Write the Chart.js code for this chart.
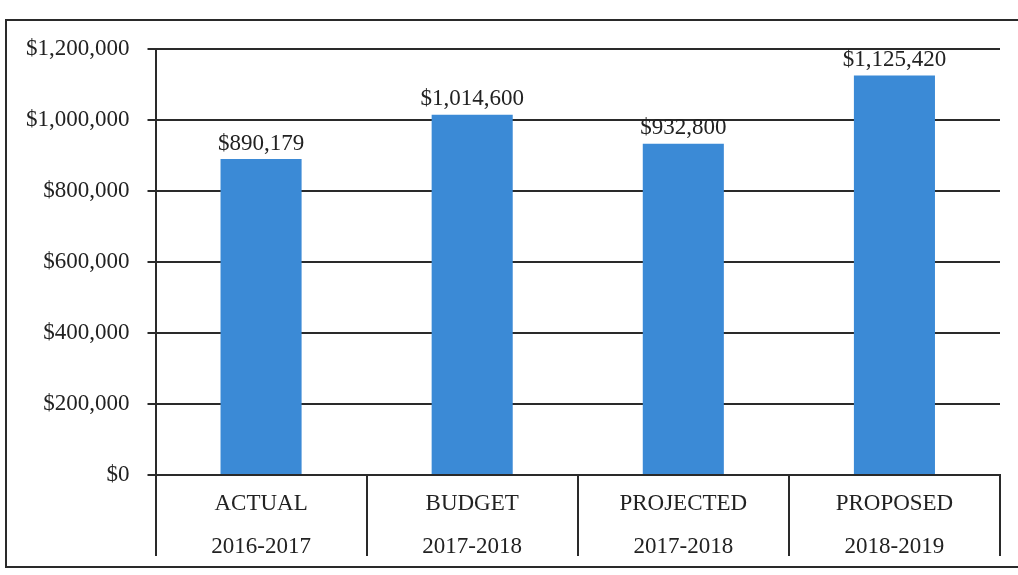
<!DOCTYPE html>
<html>
<head>
<meta charset="utf-8">
<script src="https://cdn.jsdelivr.net/npm/chart.js@4"></script>
<style>
  html, body { margin: 0; padding: 0; background: #fff; overflow: hidden; }
  #frame { position: absolute; left: 5px; top: 19px; width: 1040px; height: 549px; border: 2px solid #2a2a2a; box-sizing: border-box; }
  #wrap { position: absolute; left: 0; top: 0; width: 1018px; height: 575px; }
</style>
</head>
<body>
<div id="frame"></div>
<div id="wrap"><canvas id="c" width="1018" height="575"></canvas></div>
<script>
const categories = [["ACTUAL", "2016-2017"], ["BUDGET", "2017-2018"], ["PROJECTED", "2017-2018"], ["PROPOSED", "2018-2019"]];
const values = [890179, 1014600, 932800, 1125420];
const yTicks = [0, 200000, 400000, 600000, 800000, 1000000, 1200000];

const fmt = v => '$' + v.toLocaleString('en-US');
const SERIF = '"Liberation Serif", "Times New Roman", serif';

const valueLabels = {
  id: 'valueLabels',
  afterDatasetsDraw(chart) {
    const ctx = chart.ctx;
    const meta = chart.getDatasetMeta(0);
    ctx.save();
    ctx.font = '23px ' + SERIF;
    ctx.fillStyle = '#222';
    ctx.textAlign = 'center';
    ctx.textBaseline = 'bottom';
    meta.data.forEach((bar, i) => {
      ctx.fillText(fmt(values[i]), bar.x, bar.y - 4);
    });
    ctx.restore();
  }
};

// Table-style dividers between category labels, taken from the x scale
const categoryDividers = {
  id: 'categoryDividers',
  afterDraw(chart) {
    const xs = chart.scales.x;
    const ctx = chart.ctx;
    const n = chart.data.labels.length;
    const edges = [];
    for (let i = 0; i <= n; i++) edges.push(xs.getPixelForValue(i - 0.5));
    ctx.save();
    ctx.strokeStyle = '#2a2a2a';
    ctx.lineWidth = 2;
    edges.forEach(x => {
      ctx.beginPath();
      ctx.moveTo(Math.round(x), xs.top);
      ctx.lineTo(Math.round(x), xs.top + 81);
      ctx.stroke();
    });
    ctx.restore();
  }
};

new Chart(document.getElementById('c'), {
  type: 'bar',
  data: {
    labels: categories,
    datasets: [{
      data: values,
      backgroundColor: '#3b8ad6',
      borderWidth: 0,
      barPercentage: 0.384,
      categoryPercentage: 1.0
    }]
  },
  options: {
    responsive: false,
    animation: false,
    layout: { padding: { top: 49, right: 18, left: 8, bottom: 0 } },
    plugins: { legend: { display: false }, tooltip: { enabled: false } },
    scales: {
      x: {
        offset: true,
        grid: { display: false, drawTicks: false },
        border: { display: true, color: '#2a2a2a', width: 2 },
        ticks: {
          color: '#222',
          padding: 7,
          font: { family: SERIF, size: 23, lineHeight: 1.87 },
          maxRotation: 0
        }
      },
      y: {
        min: 0,
        max: 1200000,
        afterBuildTicks: axis => { axis.ticks = yTicks.map(v => ({ value: v })); },
        grid: { color: '#2a2a2a', lineWidth: 2, tickLength: 8 },
        border: { display: true, color: '#2a2a2a', width: 2 },
        ticks: {
          color: '#222',
          padding: 18,
          font: { family: SERIF, size: 23 },
          callback: v => fmt(v)
        }
      }
    }
  },
  plugins: [valueLabels, categoryDividers]
});
</script>
</body>
</html>
